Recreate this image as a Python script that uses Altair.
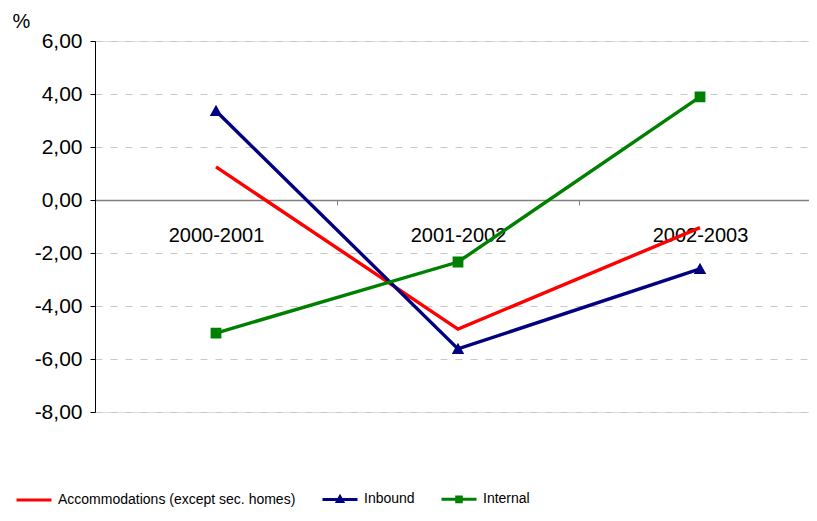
import altair as alt
import pandas as pd

periods = ["2000-2001", "2001-2002", "2002-2003"]
series_names = ["Accommodations (except sec. homes)", "Inbound", "Internal"]
accommodations = [1.25, -4.87, -1.04]
inbound = [3.36, -5.62, -2.60]
internal = [-5.02, -2.34, 3.89]
y_ticks = [-8, -6, -4, -2, 0, 2, 4, 6]

colors = ["#FF0000", "#000080", "#008000"]
# symbol paths: a line segment plus the series marker (outer + inner outline so a
# stroked legend symbol looks solid; the plot markers use fill only)
shapes = [
    "M-1,0H1",
    "M-1,0H1M0,-0.15L0.15,0.12L-0.15,0.12ZM0,-0.05L0.05,0.04L-0.05,0.04Z",
    "M-1,0H1M-0.13,-0.13H0.13V0.13H-0.13ZM-0.04,-0.04H0.04V0.04H-0.04Z",
]

rows = []
for name, vals in zip(series_names, [accommodations, inbound, internal]):
    for p, v in zip(periods, vals):
        rows.append({"period": p, "value": v, "series": name})
df = pd.DataFrame(rows)

FONT = "Liberation Sans, Arial, sans-serif"

x_enc = alt.X(
    "period:N",
    sort=periods,
    scale=alt.Scale(paddingInner=0, paddingOuter=0, range=[0, 726]),
    axis=alt.Axis(
        title=None,
        orient="bottom",
        offset=-212,
        domainColor="#808080",
        domainWidth=1.5,
        tickColor="#808080",
        tickSize=5,
        tickBand="extent",
        labelPadding=20,
        labelFont=FONT,
        labelFontSize=20,
        labelColor="#000000",
        labelAngle=0,
        grid=False,
    ),
)

y_enc = alt.Y(
    "value:Q",
    scale=alt.Scale(domain=[-8, 6], nice=False, zero=False),
    axis=alt.Axis(
        values=y_ticks,
        labelExpr="(datum.value < 0 ? '-' : '') + replace(format(abs(datum.value), '.2f'), '.', ',')",
        title="%",
        titleAngle=0,
        titleX=-83,
        titleY=-14,
        titleAlign="left",
        titleBaseline="alphabetic",
        titleFont=FONT,
        titleFontSize=20,
        titleFontWeight="normal",
        titleColor="#000000",
        labelFont=FONT,
        labelFontSize=21,
        labelColor="#000000",
        labelPadding=8,
        tickSize=5,
        tickColor="#000000",
        domainColor="#000000",
        gridColor="#C8C8C8",
        gridDash=[7, 8],
        gridWidth=1.2,
    ),
)

color_scale = alt.Scale(domain=series_names, range=colors)
shape_scale = alt.Scale(domain=series_names, range=shapes)


def make_legend():
    return alt.Legend(
        title=None,
        orient="none",
        legendX=-80,
        legendY=439,
        direction="horizontal",
        columnPadding=20,
        symbolSize=1225,
        symbolStrokeWidth=3,
        symbolFillColor="transparent",
        labelOffset=5,
        labelLimit=400,
        labelFont=FONT,
        labelFontSize=14,
        labelColor="#000000",
    )


hidden_legend = alt.Legend(
    title=None,
    orient="none",
    legendX=3000,
    legendY=3000,
    direction="horizontal",
    symbolOpacity=0,
    labelOpacity=0,
    labelExpr="''",
)

lines = alt.Chart(df).mark_line(strokeWidth=3.4).encode(
    x=x_enc,
    y=y_enc,
    color=alt.Color("series:N", scale=color_scale, legend=None),
    detail="series:N",
)

points = alt.Chart(df).mark_point(filled=True, size=6900, opacity=1).encode(
    x=alt.X("period:N", sort=periods),
    y="value:Q",
    color=alt.Color("series:N", scale=color_scale, legend=hidden_legend),
    stroke=alt.Stroke("series:N", scale=color_scale, legend=make_legend()),
    shape=alt.Shape("series:N", scale=shape_scale, legend=make_legend()),
    strokeWidth=alt.value(0),
)

chart = (
    alt.layer(lines, points)
    .resolve_scale(color="independent")
    .properties(
        width=714,
        height=371,
        autosize=alt.AutoSizeParams(type="none"),
        padding={"left": 87, "top": 33, "right": 0, "bottom": 99},
    )
    .configure_view(stroke=None)
    .configure(background="#FFFFFF")
)

chart.save("out.html", embed_options={"renderer": "svg", "actions": False})
